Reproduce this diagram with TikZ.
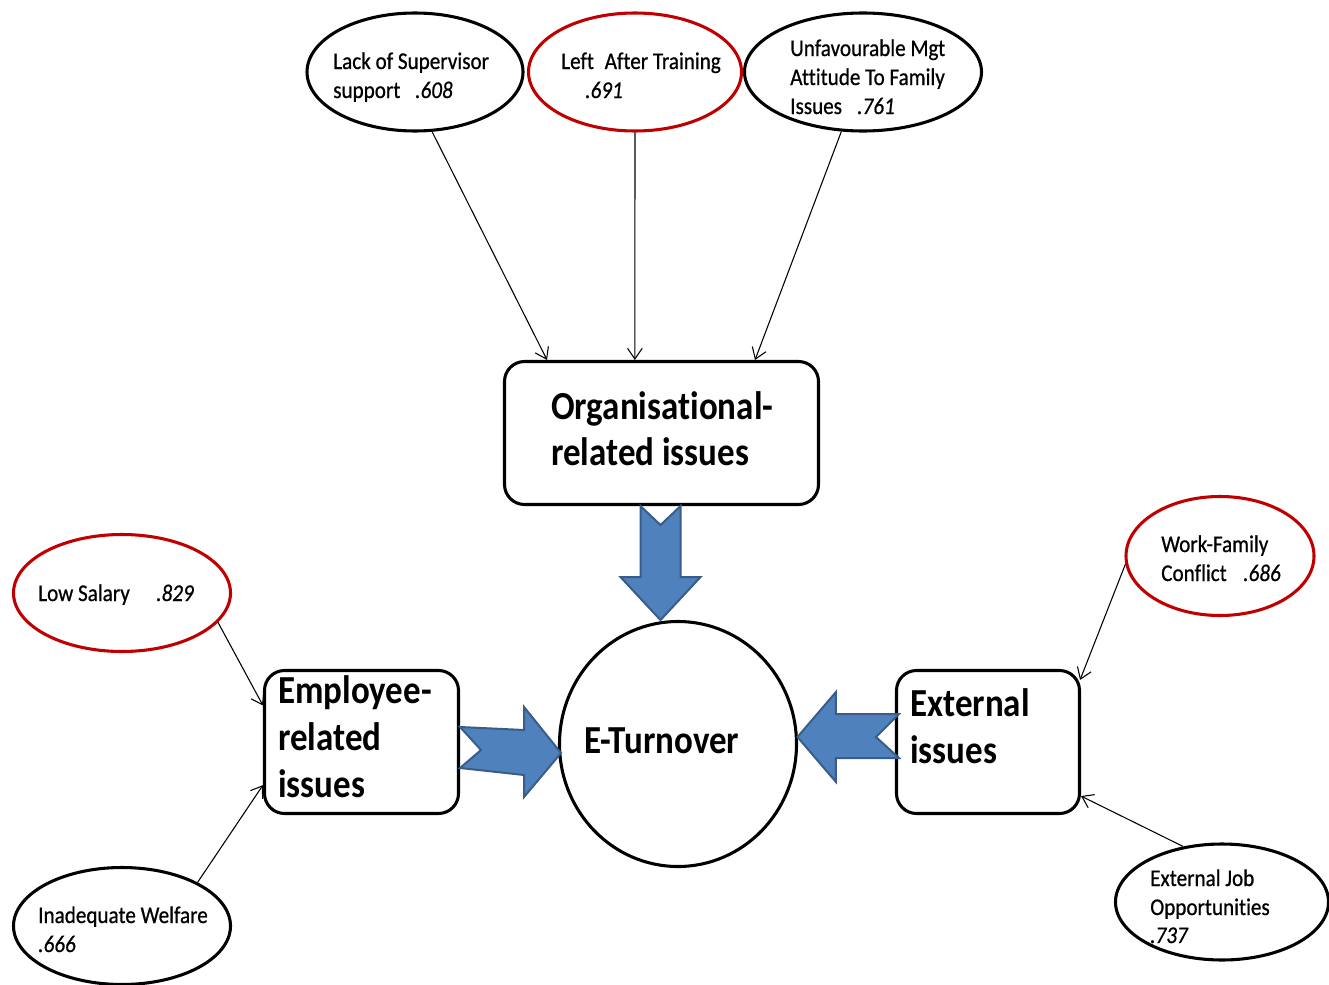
\documentclass[tikz,border=0pt]{standalone}
\usepackage{fontspec}
\setmainfont{Carlito}[FakeStretch=0.88,Ligatures=NoCommon]
\newfontfamily\lightfont{Carlito}[FakeStretch=0.88,FakeBold=0.7,Ligatures=NoCommon]
\usetikzlibrary{arrows.meta,calc,shapes.geometric}
\definecolor{darkred}{HTML}{C00000}
\definecolor{blockfill}{HTML}{4F81BD}
\definecolor{blockline}{HTML}{385D8A}
\begin{document}
\begin{tikzpicture}[x=0.75pt,y=-0.75pt,
 ell/.style={draw,ellipse,line width=2.3pt,inner sep=0pt},
 redell/.style={ell,draw=darkred},
 box/.style={draw,rectangle,rounded corners=15pt,line width=2.3pt,inner sep=0pt},
 small/.style={font=\lightfont\fontsize{18}{22}\selectfont,inner sep=0pt,anchor=base west},
 num/.style={font=\lightfont\fontsize{18}{22}\selectfont\itshape,inner sep=0pt,anchor=base west},
 big/.style={font=\fontsize{29.8}{35}\selectfont\bfseries,inner sep=0pt,anchor=base west},
 link/.style={-{Straight Barb[length=8pt,width=11pt,line width=0.8pt]},line width=0.8pt},
 block/.style={fill=blockfill,draw=blockline,line width=1.5pt,line join=miter}]
\useasboundingbox[fill=white] (0,0) rectangle (1329,985);

% ellipses
\node[ell,minimum width=162pt,minimum height=88.5pt] (lack) at (415,72) {};
\node[redell,minimum width=159.75pt,minimum height=88.5pt] (train) at (635,72) {};
\node[ell,minimum width=177.75pt,minimum height=88.5pt] (unfav) at (863,72) {};
\node[redell,minimum width=162.75pt,minimum height=87.75pt] (low) at (122,593) {};
\node[ell,minimum width=162.75pt,minimum height=87.75pt] (welf) at (122,926) {};
\node[redell,minimum width=141pt,minimum height=89.25pt] (wfc) at (1220,556) {};
\node[ell,minimum width=159.75pt,minimum height=87pt] (job) at (1222,902) {};

% boxes and circle
\node[box,minimum width=235.5pt,minimum height=107.25pt] (org) at (661.5,433) {};
\node[box,minimum width=145.5pt,minimum height=107.25pt] (emp) at (361.5,742) {};
\node[box,minimum width=137.25pt,minimum height=107.25pt] (ext) at (988,742) {};
\node[ell,minimum width=177.75pt,minimum height=183.75pt] (turn) at (678,744) {};

% texts
\node[small] (t1a) at (333,69) {Lack of Supervisor};
\node[small] (t1b) at (333,98) {support};
\node[num] (t1c) at (415,98) {.608};
\node[small] (t2a) at (561,69) {Left\hspace{0.25em} After Training};
\node[num] (t2b) at (585,98) {.691};
\node[small] (t3a) at (790,56) {Unfavourable Mgt};
\node[small] (t3b) at (790,85) {Attitude To Family};
\node[small] (t3c) at (790,114) {Issues};
\node[num] (t3d) at (857,114) {.761};
\node[big] (o1) at (551,419) {Organisational-};
\node[big] (o2) at (551,465) {related issues};
\node[big] (et) at (584,753) {E-Turnover};
\node[big] (e1) at (278,703) {Employee-};
\node[big] (e2) at (278,750) {related};
\node[big] (e3) at (278,797) {issues};
\node[big] (x1) at (910,716) {External};
\node[big] (x2) at (910,763) {issues};
\node[small] (l1) at (38,601) {Low Salary};
\node[num] (l2) at (156,601) {.829};
\node[small] (w1) at (38,923) {Inadequate Welfare};
\node[num] (w2) at (38,952) {.666};
\node[small] (f1) at (1161,552) {Work-Family};
\node[small] (f2) at (1161,581) {Conflict};
\node[num] (f3) at (1243,581) {.686};
\node[small] (j1) at (1150,886) {External Job};
\node[small] (j2) at (1150,915) {Opportunities};
\node[num] (j3) at (1150,943) {.737};

% thin connectors
\draw[link] (lack.-74) -- ($(org.north west)!0.139!(org.north east)$);
\draw[link] (train.south) -- ($(org.north west)!0.416!(org.north east)$);
\draw[link] (unfav.-110) -- ($(org.north west)!0.795!(org.north east)$);
\draw[link] (low.-17) -- ($(emp.north west)!0.25!(emp.south west)$);
\draw[link] (welf.30) -- ($(emp.north west)!0.795!(emp.south west)$);
\draw[link] (wfc.185) -- ($(ext.north east)+(-1,11)$);
\draw[link] (job.125) -- ($(ext.north east)!0.87!(ext.south east)$);

% block arrows
\begin{scope}[shift={(org.south)}]
\draw[block] (-21,0) -- (-1,19) -- (19,0) -- (19,71) -- (39,71) -- (-1,114) -- (-41,71) -- (-21,71) -- cycle;
\end{scope}
\begin{scope}[shift={(emp.east)}]
\draw[block] (0,-15) -- (64,-12) -- (64,-35) -- (101,11) -- (64,55) -- (64,33) -- (0,26) -- (21,8) -- cycle;
\end{scope}
\begin{scope}[shift={(ext.west)}]
\draw[block] (4,-28) -- (-59,-28) -- (-59,-50) -- (-97.5,-5) -- (-59,40) -- (-59,16) -- (4,16) -- (-19,-5) -- cycle;
\end{scope}
\end{tikzpicture}
\end{document}
